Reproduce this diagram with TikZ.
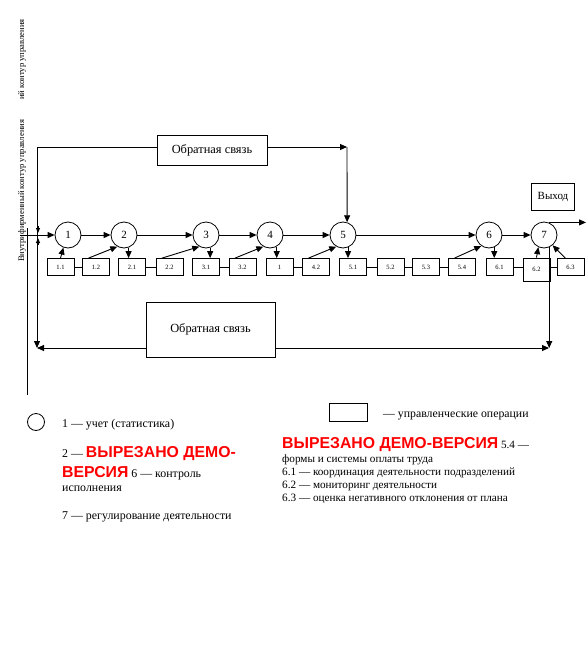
\documentclass[tikz,border=0pt]{standalone}
\usepackage{fontspec}
\setmainfont{Liberation Serif}
\newfontfamily\redsans{Liberation Sans}
\usetikzlibrary{arrows.meta}
\newcommand\demotext[1]{{\redsans\bfseries\fontsize{15.8}{17}\selectfont\color{red}#1}}
\begin{document}
\begin{tikzpicture}[x=1pt,y=-1pt,
  line/.style={draw=black, line width=0.9pt},
  arr/.style={line, -{Triangle[length=7pt,width=6pt]}},
  smallarr/.style={line, -{Triangle[length=5pt,width=4pt]}},
  circ/.style={circle, draw, line width=0.8pt, minimum size=26pt, inner sep=0pt, font=\fontsize{11}{12}\selectfont},
  opbox/.style={rectangle, draw, line width=0.8pt, minimum width=27pt, minimum height=17pt, inner sep=0pt, font=\fontsize{6.5}{7}\selectfont},
  fbbox/.style={rectangle, draw, line width=0.8pt, inner sep=0pt, font=\fontsize{11}{12}\selectfont},
  vlabel/.style={rotate=90, anchor=base west, inner sep=0pt, font=\fontsize{8.6}{10}\selectfont},
  legend/.style={anchor=base west, inner sep=0pt, align=left},
]
\useasboundingbox (0,0) rectangle (587,654);

% rotated labels
\node[vlabel] (lblOuter) at (24,100) {ий контур управления};
\node[vlabel] (lblInner) at (24,262) {Внутрифирменный контур управления};

% separator line
\coordinate (sepT) at (27,228);
\coordinate (sepB) at (27,395);
\draw[line] (sepT) -- (sepB);

% circles
\node[circ] (c1) at (68,235) {1};
\node[circ] (c2) at (124,235) {2};
\node[circ] (c3) at (206,235) {3};
\node[circ] (c4) at (270,235) {4};
\node[circ] (c5) at (343,235) {5};
\node[circ] (c6) at (489,235) {6};
\node[circ] (c7) at (544,235) {7};

% operation boxes
\node[opbox] (b11) at (60.5,267) {1.1};
\node[opbox] (b12) at (96,267) {1.2};
\node[opbox] (b21) at (132,267) {2.1};
\node[opbox] (b22) at (169.5,267) {2.2};
\node[opbox] (b31) at (206,267) {3.1};
\node[opbox] (b32) at (242.5,267) {3.2};
\node[opbox] (b41) at (279.5,267) {1};
\node[opbox] (b42) at (316,267) {4.2};
\node[opbox] (b51) at (353,267) {5.1};
\node[opbox] (b52) at (390.5,267) {5.2};
\node[opbox] (b53) at (426,267) {5.3};
\node[opbox] (b54) at (462,267) {5.4};
\node[opbox] (b61) at (499.5,267) {6.1};
\node[opbox, minimum height=23pt, text depth=-3pt] (b62) at (536.5,269.5) {6.2};
\node[opbox] (b63) at (570.5,267) {6.3};

% feedback boxes and output
\node[fbbox, minimum width=110pt, minimum height=30pt, font=\fontsize{12.4}{13}\selectfont] (fb1) at (212,150) {Обратная связь};
\node[fbbox, minimum width=129pt, minimum height=55pt, font=\fontsize{12.4}{13}\selectfont] (fb2) at (210.5,329.5) {Обратная связь};
\node[fbbox, minimum width=43pt, minimum height=27pt] (outbox) at (553,196.5) {Выход};

% main chain
\coordinate (inp) at (20,235);
\draw[arr] (inp) -- (c1);
\draw[arr] (c1) -- (c2);
\draw[arr] (c2) -- (c3);
\draw[arr] (c3) -- (c4);
\draw[arr] (c4) -- (c5);
\draw[arr] (c5) -- (c6);
\draw[arr] (c6) -- (c7);
\coordinate (outp) at (586,221);
\draw[arr] (c7.70) -- (c7.70 -| outp);

% box links
\draw[line] (b11) -- (b12);
\draw[line] (b21) -- (b22);
\draw[line] (b31) -- (b32);
\draw[line] (b41) -- (b42);
\draw[line] (b51) -- (b52);
\draw[line] (b52) -- (b53);
\draw[line] (b53) -- (b54);
\draw[line] (b61.east) -- (b61.east -| b62.west);
\draw[line] (b62.east |- b63.west) -- (b63.west);

% box -> circle
\draw[arr] (b11.north) -- (c1.-110);
\draw[arr] (b12.130) -- (c2.-120);
\draw[arr] (b22.130) -- (c3.-120);
\draw[arr] (b32.130) -- (c4.-120);
\draw[arr] (b42.130) -- (c5.-120);
\draw[arr] (b54.130) -- (c6.-125);
\draw[arr] (b62.north) -- (c7.-115);
\draw[arr] (b63.120) -- (c7.-50);

% circle -> box
\draw[arr] (c2.-70) -- (c2.-70 |- b21.north);
\draw[arr] (c3.-72) -- (c3.-72 |- b31.north);
\draw[arr] (c4.-60) -- (c4.-60 |- b41.north);
\draw[arr] (c5.-68) -- (c5.-68 |- b51.north);
\draw[arr] (c6.-67) -- (c6.-67 |- b61.north);

% top feedback loop
\coordinate (tl) at (37,147);
\coordinate (bl) at (37,348);
\coordinate (tr) at (347,147);
\draw[arr] (fb1.west |- tl) -- (tl) -- (bl);
\draw[arr] (fb1.east |- tr) -- (tr);
\draw[arr] (tr) -- (c5.72);

% bottom feedback loop
\coordinate (br) at (549,348);
\draw[arr] (fb2.west |- bl) -- (bl);
\draw[arr] (fb2.east |- br) -- (br);
\draw[arr] (c7.-67) -- (c7.-67 |- br);

% small tips at the input
\coordinate (tipAs) at (38,226);
\coordinate (tipA) at (38,233);
\coordinate (tipBs) at (38,245);
\coordinate (tipB) at (38,238);
\draw[smallarr] (tipAs) -- (tipA);
\draw[smallarr] (tipBs) -- (tipB);

% legend
\node[circle, draw, line width=0.8pt, minimum size=17pt, inner sep=0pt] (legc) at (36,422) {};
\node[legend, font=\fontsize{11.9}{13}\selectfont] (leg1) at (62,427) {1 — учет (статистика)};
\node[legend, font=\fontsize{11.9}{14}\selectfont] (leg2) at (62,491) {2 — \demotext{ВЫРЕЗАНО ДЕМО-}\\[4pt]\demotext{ВЕРСИЯ} 6 — контроль\\исполнения};
\node[legend, font=\fontsize{11.9}{13}\selectfont] (leg7) at (62,519) {7 — регулирование деятельности};

\node[rectangle, draw, line width=0.8pt, minimum width=38pt, minimum height=18pt, inner sep=0pt] (legr) at (348,412) {};
\node[legend, font=\fontsize{11.8}{13}\selectfont] (legops) at (383,417) {— управленческие операции};
\node[legend, font=\fontsize{11.2}{13}\selectfont] (leg5) at (282,501) {\demotext{ВЫРЕЗАНО ДЕМО-ВЕРСИЯ} 5.4 —\\[1pt]формы и системы оплаты труда\\6.1 — координация деятельности подразделений\\6.2 — мониторинг деятельности\\6.3 — оценка негативного отклонения от плана};
\end{tikzpicture}
\end{document}
